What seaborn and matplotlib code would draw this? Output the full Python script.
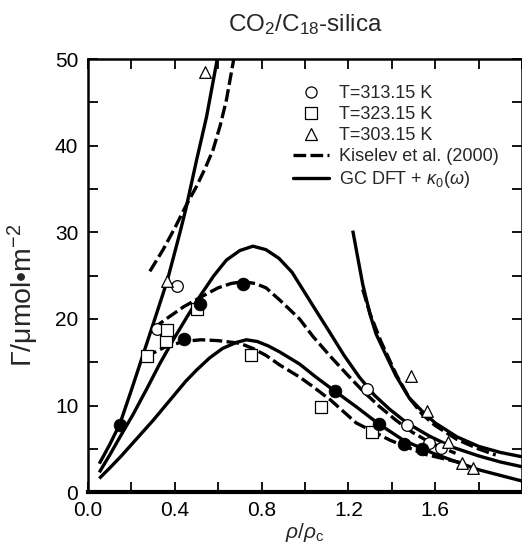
import numpy as np
import pandas as pd
import matplotlib
matplotlib.use("Agg")
import matplotlib.pyplot as plt
from matplotlib.lines import Line2D
from matplotlib.ticker import MultipleLocator
import seaborn as sns

# ---------------- data ----------------
# experimental points
filled_x = [0.147, 0.441, 0.518, 0.714, 1.136, 1.339, 1.454, 1.539]
filled_y = [7.8, 17.65, 21.7, 24.0, 11.7, 7.85, 5.57, 5.0]

t313_x = [0.319, 0.408, 1.284, 1.47, 1.572, 1.626]
t313_y = [18.8, 23.8, 11.9, 7.8, 5.65, 5.1]

t323_x = [0.27, 0.359, 0.362, 0.504, 0.749, 1.074, 1.309]
t323_y = [15.7, 17.5, 18.7, 21.1, 15.8, 9.8, 7.0]

t303_x = [0.365, 0.538, 1.488, 1.562, 1.657, 1.722, 1.775]
t303_y = [24.4, 48.5, 13.4, 9.4, 5.85, 3.35, 2.77]

# GC DFT + kappa0(omega) curves (solid)
gc303a_x = [0.052, 0.10, 0.147, 0.20, 0.25, 0.30, 0.365, 0.423, 0.45, 0.50, 0.546, 0.595, 0.605]
gc303a_y = [3.3, 5.5, 7.9, 11.8, 15.6, 19.4, 24.4, 29.9, 32.6, 38.3, 43.3, 49.9, 51.2]
gc303b_x = [1.22, 1.24, 1.266, 1.30, 1.327, 1.37, 1.419, 1.48, 1.542, 1.60, 1.70, 1.80, 1.90, 2.0]
gc303b_y = [30.2, 27.5, 24.0, 20.5, 18.3, 16.0, 13.45, 10.9, 9.3, 8.0, 6.4, 5.3, 4.6, 4.1]
gc313_x = [0.052, 0.10, 0.15, 0.208, 0.27, 0.33, 0.40, 0.46, 0.515, 0.58, 0.638, 0.70, 0.76,
           0.82, 0.88, 0.94, 1.0, 1.06, 1.113, 1.18, 1.25, 1.32, 1.389, 1.47, 1.572, 1.68,
           1.80, 1.90, 2.0]
gc313_y = [2.3, 4.3, 6.5, 9.0, 11.9, 14.8, 17.9, 20.4, 22.6, 25.0, 26.8, 27.9, 28.4,
           28.0, 27.0, 25.4, 23.0, 20.6, 18.5, 15.8, 13.3, 11.2, 9.6, 8.0, 6.5, 5.2,
           4.2, 3.5, 2.95]
gc323_x = [0.052, 0.10, 0.15, 0.20, 0.25, 0.30, 0.35, 0.40, 0.45, 0.50, 0.56, 0.62, 0.684,
           0.73, 0.78, 0.83, 0.883, 0.975, 1.05, 1.136, 1.24, 1.339, 1.454, 1.60, 1.80, 2.0]
gc323_y = [1.6, 2.8, 4.1, 5.5, 6.9, 8.3, 9.8, 11.3, 12.8, 14.1, 15.5, 16.6, 17.3,
           17.6, 17.4, 16.9, 16.2, 14.8, 13.3, 11.7, 9.8, 7.9, 6.0, 4.4, 2.6, 1.3]

# Kiselev et al. (2000) curves (dashed)
kis303a_x = [0.285, 0.346, 0.40, 0.45, 0.50, 0.54, 0.576, 0.61, 0.638, 0.671, 0.676]
kis303a_y = [25.5, 28.0, 30.5, 33.0, 35.3, 37.4, 39.5, 42.4, 45.3, 49.9, 50.8]
kis303b_x = [1.266, 1.30, 1.35, 1.42, 1.48, 1.54, 1.60, 1.70, 1.80, 1.879]
kis303b_y = [23.4, 20.6, 17.4, 13.6, 10.9, 9.0, 7.7, 6.1, 5.0, 4.3]
kis313_x = [0.30, 0.36, 0.44, 0.518, 0.60, 0.66, 0.714, 0.77, 0.82, 0.883, 0.975, 1.036,
            1.12, 1.19, 1.27, 1.343, 1.42, 1.496, 1.58, 1.694]
kis313_y = [18.9, 20.0, 21.4, 22.5, 23.6, 24.1, 24.3, 24.1, 23.6, 22.2, 20.0, 18.0,
            15.6, 13.7, 11.6, 9.9, 8.3, 6.9, 5.7, 4.5]
kis323_x = [0.262, 0.35, 0.438, 0.52, 0.60, 0.699, 0.76, 0.82, 0.883, 0.975, 1.036, 1.12,
            1.236, 1.393, 1.55, 1.72]
kis323_y = [15.6, 16.7, 17.4, 17.6, 17.5, 17.2, 16.6, 15.8, 14.7, 13.3, 12.2, 10.6,
            8.0, 6.0, 4.4, 3.4]

legend_labels = ["T=313.15 K", "T=323.15 K", "T=303.15 K",
                 "Kiselev et al. (2000)", r"GC DFT + $\kappa_0(\omega)$"]

# ---------------- plotting ----------------
sns.set_theme(style="ticks")
plt.rcParams["font.family"] = ["Liberation Sans", "DejaVu Sans"]
plt.rcParams["mathtext.fontset"] = "custom"
plt.rcParams["mathtext.rm"] = "Liberation Sans"
plt.rcParams["mathtext.it"] = "Liberation Sans:italic"
plt.rcParams["mathtext.sf"] = "Liberation Sans"

fig = plt.figure(figsize=(5.22, 5.43), dpi=100)
ax = fig.add_axes([0.1686, 0.0934, 0.8314, 0.7979])

LW = 2.4
DASH = (0, (3.8, 1.3))

for xs, ys in [(gc303a_x, gc303a_y), (gc303b_x, gc303b_y), (gc313_x, gc313_y), (gc323_x, gc323_y)]:
    sns.lineplot(x=xs, y=ys, ax=ax, color="black", lw=LW, sort=False, estimator=None,
                 solid_capstyle="butt", zorder=2)
for xs, ys in [(kis303a_x, kis303a_y), (kis303b_x, kis303b_y), (kis313_x, kis313_y), (kis323_x, kis323_y)]:
    sns.lineplot(x=xs, y=ys, ax=ax, color="black", lw=LW, sort=False, estimator=None,
                 linestyle=DASH, zorder=2)

sns.scatterplot(x=t313_x, y=t313_y, ax=ax, marker="o", s=70, facecolor="white",
                edgecolor="black", linewidth=0.9, zorder=3)
sns.scatterplot(x=t323_x, y=t323_y, ax=ax, marker="s", s=80, facecolor="white",
                edgecolor="black", linewidth=0.9, zorder=3)
sns.scatterplot(x=t303_x, y=t303_y, ax=ax, marker="^", s=70, facecolor="white",
                edgecolor="black", linewidth=0.9, zorder=3)
sns.scatterplot(x=filled_x, y=filled_y, ax=ax, marker="o", s=85, color="black",
                edgecolor="black", linewidth=0.5, zorder=4)

ax.set_xlim(0, 2.0)
ax.set_ylim(0, 50)
ax.xaxis.set_major_locator(MultipleLocator(0.4))
ax.xaxis.set_minor_locator(MultipleLocator(0.2))
ax.yaxis.set_major_locator(MultipleLocator(10))
ax.yaxis.set_minor_locator(MultipleLocator(5))
ax.set_xticks([0.0, 0.4, 0.8, 1.2, 1.6])
ax.set_xticklabels(["0.0", "0.4", "0.8", "1.2", "1.6"])
ax.tick_params(which="both", direction="in", top=True, right=True, length=7, width=1.3,
               labelsize=15, colors="black")
ax.tick_params(axis="x", pad=6)
ax.tick_params(axis="y", pad=7)
for side in ["left", "right", "top"]:
    ax.spines[side].set_linewidth(1.8)
ax.spines["bottom"].set_linewidth(3.0)
for sp in ax.spines.values():
    sp.set_color("black")

ax.set_xlabel(r"$\rho/\rho_{\rm c}$", fontsize=15)
ax.xaxis.set_label_coords(0.5, -0.066)
ax.set_ylabel(r"$\Gamma$/μmol•m$^{-2}$", fontsize=20.5)
ax.yaxis.set_label_coords(-0.108, 0.455)
ax.set_title(r"CO$_2$/C$_{18}$-silica", fontsize=17.5, pad=20)

handles = [
    Line2D([], [], marker="o", ls="none", mfc="white", mec="black", ms=8, mew=0.9),
    Line2D([], [], marker="s", ls="none", mfc="white", mec="black", ms=8.5, mew=0.9),
    Line2D([], [], marker="^", ls="none", mfc="white", mec="black", ms=8, mew=0.9),
    Line2D([], [], color="black", lw=LW, linestyle=DASH),
    Line2D([], [], color="black", lw=LW),
]
ax.legend(handles, legend_labels, loc="upper left", bbox_to_anchor=(0.472, 0.939),
          frameon=False, fontsize=13, handlelength=2.0, handletextpad=0.55,
          labelspacing=0.22, borderpad=0.0, borderaxespad=0.0)

fig.savefig("out.png", dpi=100)
